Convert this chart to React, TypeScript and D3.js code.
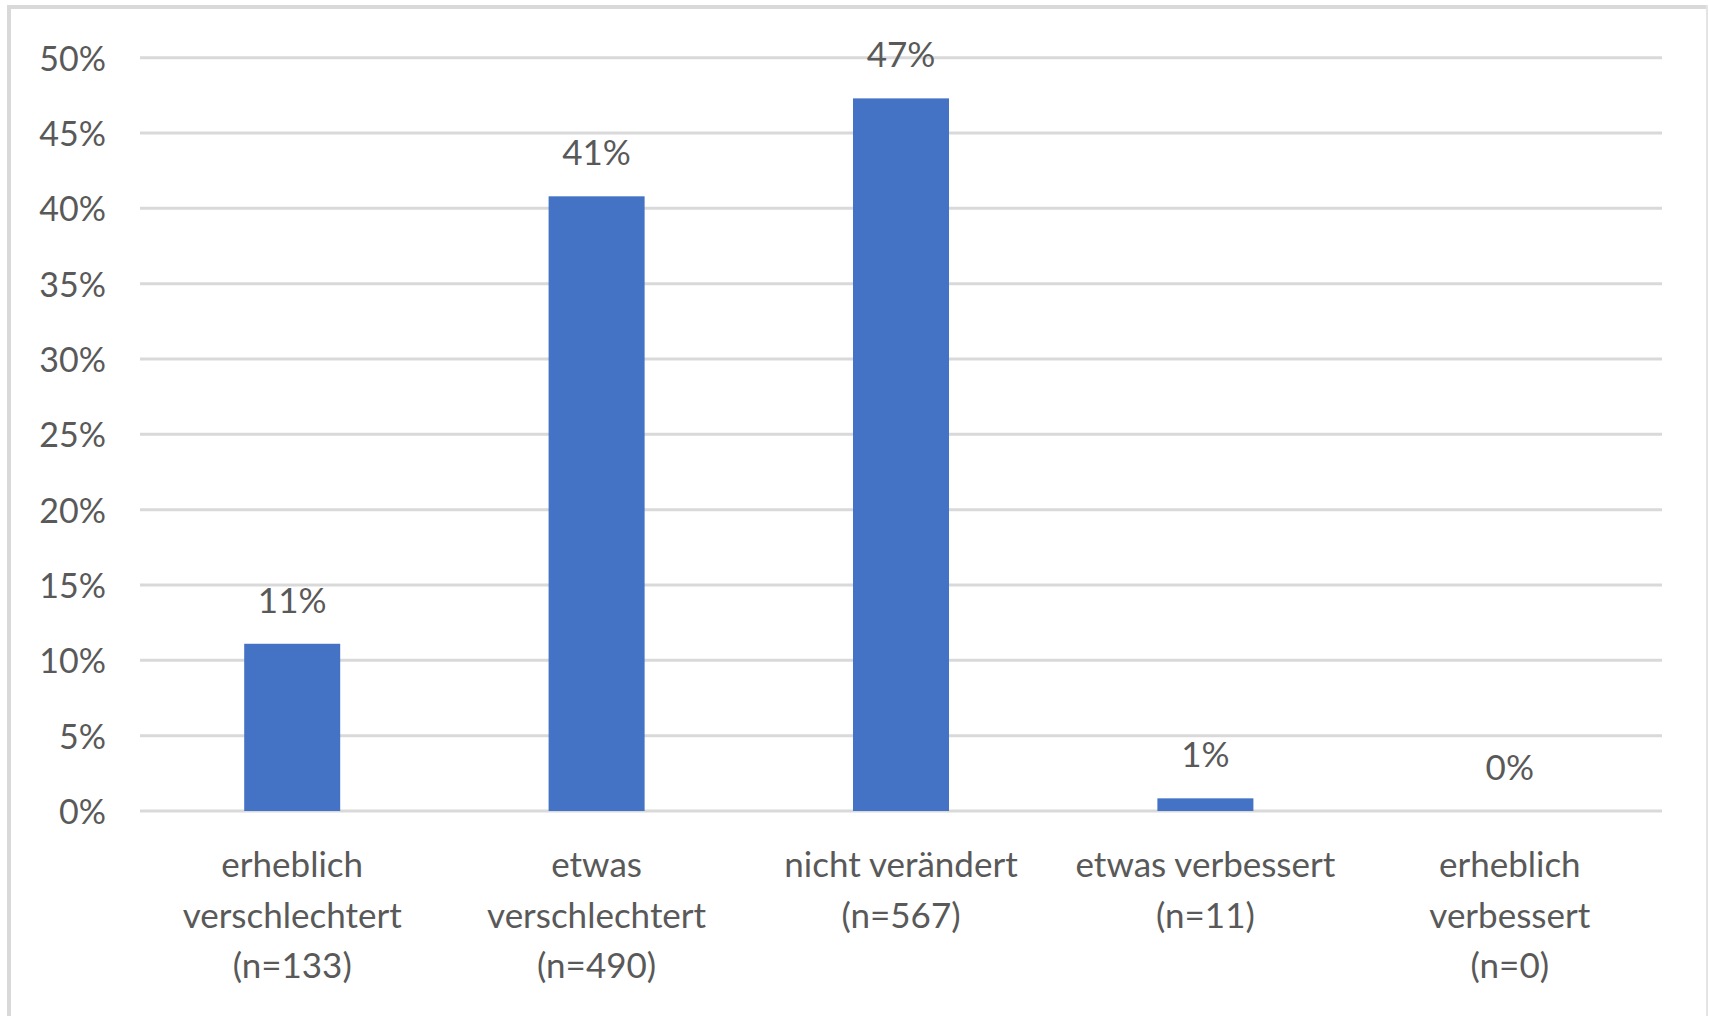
import React from "react";
import * as d3 from "d3";

const categories: string[][] = [
  ["erheblich", "verschlechtert", "(n=133)"],
  ["etwas", "verschlechtert", "(n=490)"],
  ["nicht verändert", "(n=567)"],
  ["etwas verbessert", "(n=11)"],
  ["erheblich", "verbessert", "(n=0)"],
];
const values: number[] = [0.111, 0.408, 0.473, 0.0084, 0];
const yTicks: number[] = [0, 0.05, 0.1, 0.15, 0.2, 0.25, 0.3, 0.35, 0.4, 0.45, 0.5];

const W = 1709;
const H = 1016;
const FONT = "Lato, 'Open Sans', sans-serif";
const TEXT = "#595959";
const GRID = "#D9D9D9";
const BAR = "#4472C4";

export default function App() {
  const x = d3
    .scaleBand<number>()
    .domain(categories.map((_, i) => i))
    .range([140, 1662])
    .paddingInner(0.6846)
    .paddingOuter(0.3423);
  const y = d3.scaleLinear().domain([0, 0.5]).range([811, 57.7]);
  const pct = d3.format(".0%");

  return (
    <div style={{ position: "absolute", left: 0, top: 0, width: W, height: H, background: "#fff" }}>
      <svg width={W} height={H} style={{ display: "block", fontFamily: FONT }}>
        <rect x={0} y={0} width={W} height={H} fill="#fff" />
        {/* frame */}
        <line x1={9} y1={5} x2={9} y2={H} stroke={GRID} strokeWidth={4} />
        <line x1={7} y1={7} x2={1708} y2={7} stroke={GRID} strokeWidth={4} />
        <line x1={1707} y1={5} x2={1707} y2={H} stroke="#E4E4E4" strokeWidth={2} />

        {/* gridlines and y ticks */}
        {yTicks.map((t) => (
          <g key={t}>
            <line x1={140} x2={1662} y1={y(t)} y2={y(t)} stroke={GRID} strokeWidth={3} />
            <text
              x={106}
              y={y(t) + 13}
              textAnchor="end"
              fontSize={34}
              fill={TEXT}
            >
              {pct(t)}
            </text>
          </g>
        ))}

        {/* bars */}
        {values.map((v, i) => (
          <g key={i}>
            {v > 0 && (
              <rect
                x={x(i)!}
                y={y(v)}
                width={x.bandwidth()}
                height={y(0) - y(v)}
                fill={BAR}
              />
            )}
            <text
              x={x(i)! + x.bandwidth() / 2}
              y={y(v) - 31}
              textAnchor="middle"
              fontSize={35}
              fill={TEXT}
            >
              {pct(v)}
            </text>
          </g>
        ))}

        {/* category labels */}
        {categories.map((lines, i) => (
          <text
            key={i}
            x={x(i)! + x.bandwidth() / 2}
            y={877}
            textAnchor="middle"
            fontSize={35}
            fill={TEXT}
          >
            {lines.map((l, j) => (
              <tspan key={j} x={x(i)! + x.bandwidth() / 2} y={877 + j * 50.5}>
                {l}
              </tspan>
            ))}
          </text>
        ))}
      </svg>
    </div>
  );
}
